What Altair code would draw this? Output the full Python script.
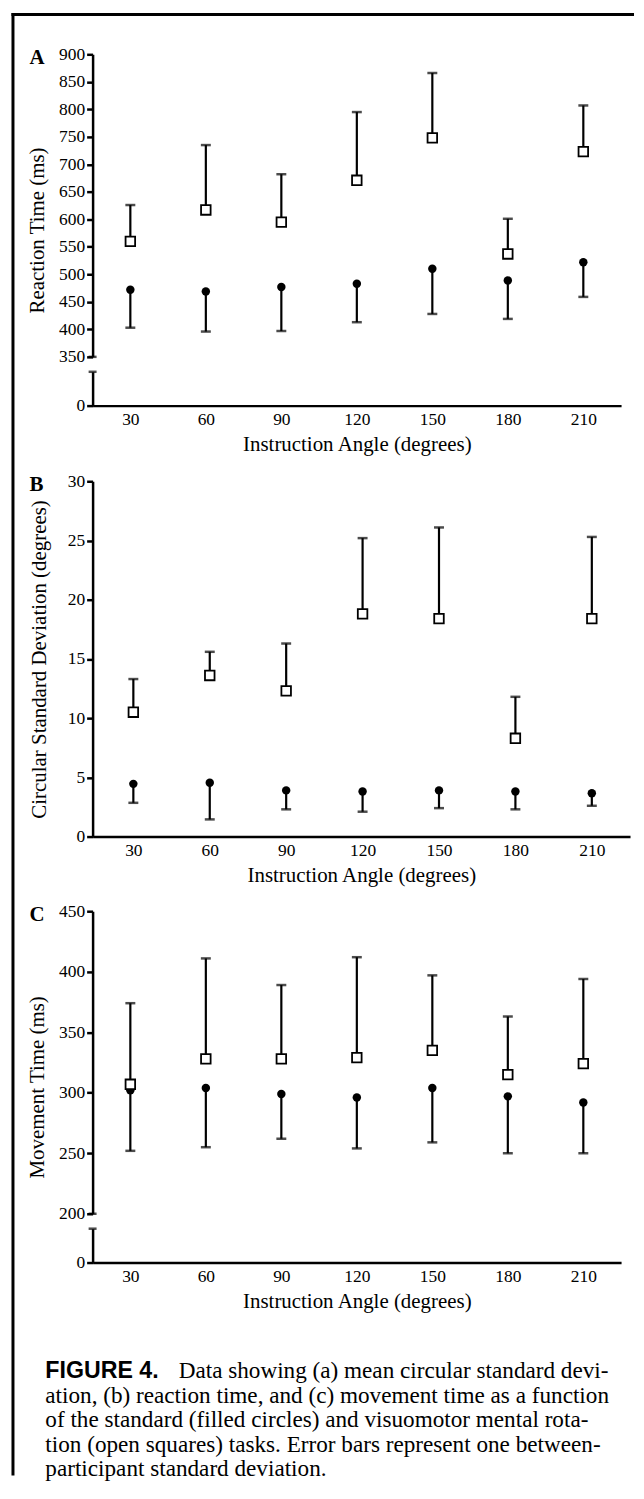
import altair as alt
import pandas as pd

# ---------------- data ----------------
ANGLES = [30, 60, 90, 120, 150, 180, 210]

# Panel A: reaction time (ms)
RT_SQ_MEAN = [560, 617, 595, 671, 748, 537, 723]
RT_SQ_UP = [626, 735, 682, 795, 866, 601, 807]
RT_CI_MEAN = [472, 469, 477, 483, 510, 489, 522]
RT_CI_LO = [403, 396, 397, 413, 428, 419, 459]

# Panel B: circular standard deviation (degrees)
CSD_SQ_MEAN = [10.5, 13.6, 12.3, 18.8, 18.4, 8.3, 18.4]
CSD_SQ_UP = [13.3, 15.6, 16.3, 25.2, 26.1, 11.8, 25.3]
CSD_CI_MEAN = [4.45, 4.55, 3.9, 3.8, 3.9, 3.8, 3.65]
CSD_CI_LO = [2.85, 1.45, 2.3, 2.1, 2.4, 2.3, 2.6]

# Panel C: movement time (ms)
MT_SQ_MEAN = [307, 328, 328, 329, 335, 315, 324]
MT_SQ_UP = [374, 411, 389, 412, 397, 363, 394]
MT_CI_MEAN = [302, 304, 299, 296, 304, 297, 292]
MT_CI_LO = [252, 255, 262, 254, 259, 250, 250]

RT_TICKS = [350, 400, 450, 500, 550, 600, 650, 700, 750, 800, 850, 900]
CSD_TICKS = [0, 5, 10, 15, 20, 25, 30]
MT_TICKS = [200, 250, 300, 350, 400, 450]

X_TITLE = "Instruction Angle (degrees)"
CAPTION_HEAD = "FIGURE 4."
CAPTION_FIRST = "Data showing (a) mean circular standard devi-"
CAPTION_REST = [
    "ation, (b) reaction time, and (c) movement time as a function",
    "of the standard (filled circles) and visuomotor mental rota-",
    "tion (open squares) tasks. Error bars represent one between-",
    "participant standard deviation.",
]

SERIF = "Liberation Serif"
SANS = "Liberation Sans"
LW = 2.5


def frame(sq_mean, sq_up, ci_mean, ci_lo):
    return pd.DataFrame({"angle": ANGLES, "sq_mean": sq_mean, "sq_up": sq_up,
                         "ci_mean": ci_mean, "ci_lo": ci_lo})


def x_axis(show):
    if not show:
        return None
    return alt.Axis(values=ANGLES, ticks=False, labelPadding=5, labelFontSize=17.5,
                    title=X_TITLE, titleFontSize=21, titleFontWeight="normal",
                    titleY=39, titleBaseline="middle", domainWidth=LW,
                    labelFlush=False, labelOverlap=False, grid=False)


def y_axis(values, title, title_x=-55.5, title_y=0):
    kw = dict(values=values, tickSize=6, tickWidth=LW, domainWidth=LW, labelPadding=2,
              labelFontSize=17.5, labelFlush=False, labelOverlap=False, grid=False,
              titleFontSize=21, titleFontWeight="normal")
    if title:
        kw.update(title=title, titleX=title_x, titleY=title_y, titleBaseline="middle")
    else:
        kw.update(title="")
    return alt.Axis(**kw)


def data_panel(df, xdom, ydom, yrange, yaxis, show_x, width, height, letter, letter_y,
               cap_bottom=False, extra=None):
    xs = alt.Scale(domain=xdom, nice=False, zero=False)
    sk = dict(domain=ydom, nice=False, zero=False)
    if yrange is not None:
        sk["range"] = yrange
    ys = alt.Scale(**sk)
    xa = x_axis(show_x)
    if xa is None:
        X = alt.X("angle:Q", scale=xs, axis=None)
    else:
        X = alt.X("angle:Q", scale=xs, axis=xa)

    def Y(f):
        return alt.Y(f, type="quantitative", scale=ys, axis=yaxis)

    base = alt.Chart(df)
    layers = [
        base.mark_rule(strokeWidth=2.2, color="black").encode(x=X, y=Y("ci_lo"), y2="ci_mean"),
        base.mark_tick(orient="horizontal", size=10, thickness=2.5, color="black").encode(x=X, y=Y("ci_lo")),
        base.mark_circle(size=72, color="black", opacity=1).encode(x=X, y=Y("ci_mean")),
        base.mark_rule(strokeWidth=2.2, color="black").encode(x=X, y=Y("sq_mean"), y2="sq_up"),
        base.mark_tick(orient="horizontal", size=10, thickness=2.5, color="black").encode(x=X, y=Y("sq_up")),
        base.mark_point(shape="square", size=92, filled=True, fill="white", stroke="black",
                        strokeWidth=1.8, opacity=1).encode(x=X, y=Y("sq_mean")),
    ]
    if cap_bottom:
        # small cap closing the upper segment of the broken axis
        layers.append(
            alt.Chart(pd.DataFrame({"k": [0]})).mark_tick(orient="horizontal", size=8, thickness=LW, color="black")
            .encode(x=alt.value(0), y=alt.value(height)))
    layers.append(
        alt.Chart(pd.DataFrame({"t": [letter]})).mark_text(font=SERIF, fontWeight="bold", fontSize=21,
                                                            align="left", baseline="middle", color="black")
        .encode(x=alt.value(-63.5), y=alt.value(letter_y), text="t:N"))
    if extra:
        layers.extend(extra)
    return alt.layer(*layers).properties(width=width, height=height)


def break_panel(xdom, width):
    xs = alt.Scale(domain=xdom, nice=False, zero=False)
    ys = alt.Scale(domain=[0, 1], nice=False, zero=False)
    return alt.Chart(pd.DataFrame({"k": [0]})).mark_tick(
        orient="horizontal", size=8, thickness=LW, color="black").encode(
        x=alt.XDatum(xdom[0], type="quantitative", scale=xs, axis=x_axis(True)),
        y=alt.YDatum(1, type="quantitative", scale=ys, axis=y_axis([0], None)),
    ).properties(width=width, height=34)


XDOM_A = [15, 225]
XDOM_B = [14, 225]

frame_lines = [
    alt.Chart(pd.DataFrame({"k": [0]})).mark_rule(strokeWidth=3, color="black")
    .encode(x=alt.value(-80), y=alt.value(-41.5), y2=alt.value(1428)),
    alt.Chart(pd.DataFrame({"k": [0]})).mark_rule(strokeWidth=3, color="black")
    .encode(x=alt.value(-81.5), x2=alt.value(544), y=alt.value(-40)),
]

a_up = data_panel(frame(RT_SQ_MEAN, RT_SQ_UP, RT_CI_MEAN, RT_CI_LO), XDOM_A, [350, 900], None,
                  y_axis(RT_TICKS, "Reaction Time (ms)", -55.5, 176.5), False, 531, 304, "A", 4,
                  cap_bottom=True, extra=frame_lines)
a_low = break_panel(XDOM_A, 531)

b = data_panel(frame(CSD_SQ_MEAN, CSD_SQ_UP, CSD_CI_MEAN, CSD_CI_LO), XDOM_B, [0, 30], [418, 61],
               y_axis(CSD_TICKS, "Circular Standard Deviation (degrees)", -53.5, 239.5), True, 540, 418,
               "B", 65)

c_up = data_panel(frame(MT_SQ_MEAN, MT_SQ_UP, MT_CI_MEAN, MT_CI_LO), XDOM_A, [200, 450], [364, 60],
                  y_axis(MT_TICKS, "Movement Time (ms)", -55.5, 236.5), False, 531, 364, "C", 64,
                  cap_bottom=True)
c_low = break_panel(XDOM_A, 531)

cap_y = alt.Y("line:Q", scale=alt.Scale(domain=[0, 4], range=[94.5, 192.5], nice=False, zero=False), axis=None)
caption = alt.layer(
    alt.Chart(pd.DataFrame({"line": [0], "text": [CAPTION_HEAD]})).mark_text(
        font=SANS, fontWeight="bold", fontSize=23.3, align="left", baseline="middle", color="black")
    .encode(x=alt.value(-47.5), y=cap_y, text="text:N"),
    alt.Chart(pd.DataFrame({"line": [0], "text": [CAPTION_FIRST]})).mark_text(
        font=SERIF, fontSize=23.3, align="left", baseline="middle", color="black")
    .encode(x=alt.value(86.5), y=cap_y, text="text:N"),
    alt.Chart(pd.DataFrame({"line": [1, 2, 3, 4], "text": CAPTION_REST})).mark_text(
        font=SERIF, fontSize=23.3, align="left", baseline="middle", color="black")
    .encode(x=alt.value(-47.5), y=cap_y, text="text:N"),
).properties(width=531, height=200)

chart = alt.vconcat(a_up, a_low, b, c_up, c_low, caption, spacing=15, bounds="flush").properties(
    padding={"left": 2, "top": 0, "right": 0, "bottom": 0}
).configure_view(strokeWidth=0).configure_axis(
    labelFont=SERIF, titleFont=SERIF, labelColor="black", titleColor="black",
    domainColor="black", tickColor="black"
)

chart.save("out.html", embed_options={"renderer": "svg", "actions": False})
